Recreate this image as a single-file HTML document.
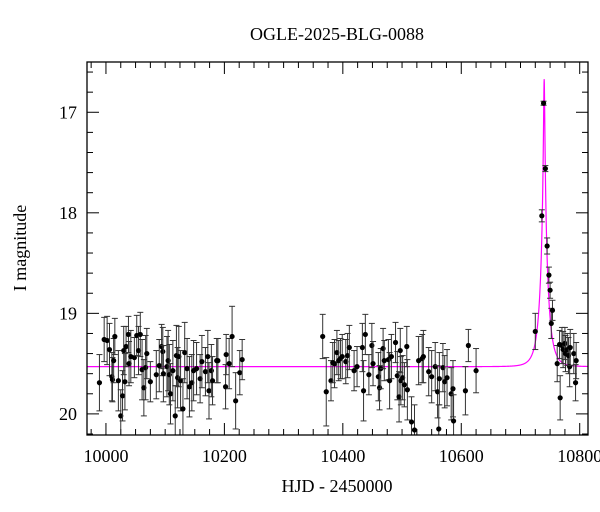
<!DOCTYPE html>
<html><head><meta charset="utf-8"><style>
html,body{margin:0;padding:0;background:#fff;}
svg{display:block;font-family:"Liberation Serif",serif;}
</style></head><body>
<svg id="chart" width="600" height="512" viewBox="0 0 600 512" xmlns="http://www.w3.org/2000/svg">
<rect width="600" height="512" fill="#fff"/>
<text x="337" y="40" text-anchor="middle" font-size="18">OGLE-2025-BLG-0088</text>
<text x="337" y="492" text-anchor="middle" font-size="18">HJD - 2450000</text>
<text x="26" y="248" text-anchor="middle" font-size="18" transform="rotate(-90 26 248)">I magnitude</text>
<g id="ticks"></g>
<g id="model"></g>
<g id="points"></g>
<rect x="87" y="62" width="501" height="373" fill="none" stroke="#000" stroke-width="1.3"/>
</svg>
<script>
const times=[9989,9997,10002,10006,10010,10011,10013,10015,10021,10025,10028,10030,10032,10034,10038,10039,10042,10048,10052,10055,10058,10061,10064,10067,10069,10075,10085,10090,10094,10096,10097,10103,10105,10107,10109,10113,10117,10119,10121,10123,10126,10130,10133,10137,10141,10145,10148,10153,10159,10162,10168,10172,10174,10178,10180,10187,10189,10202,10203,10208,10213,10219,10226,10230,
10366,10372,10380,10383,10386,10390,10393,10396,10399,10405,10408,10411,10419,10424,10433,10435,10438,10444,10449,10451,10460,10462,10464,10468,10470,10477,10479,10482,10489,10492,10495,10497,10498,10501,10504,10508,10509,10516,10521,10528,10534,10536,10545,10550,10556,10560,10562,10563,10569,10572,10576,10583,10586,10587,10607,10612,10625,
10725,10736,10739,10742,10745,10748,10750,10752,10754,10762,10766,10767,10770,10772,10775,10776,10779,10781,10783,10784,10790,10793,10794];
const mags=[19.69,19.26,19.27,19.36,19.63,19.66,19.47,19.23,19.67,20.02,19.82,19.37,19.68,19.33,19.21,19.50,19.43,19.44,19.22,19.37,19.21,19.56,19.74,19.54,19.40,19.68,19.61,19.52,19.33,19.38,19.60,19.53,19.47,19.61,19.80,19.57,20.02,19.42,19.64,19.43,19.67,19.95,19.39,19.55,19.73,19.69,19.57,19.55,19.65,19.48,19.58,19.43,19.77,19.57,19.67,19.47,19.47,19.73,19.41,19.50,19.23,19.87,19.59,19.46,
19.23,19.78,19.67,19.49,19.50,19.39,19.47,19.45,19.43,19.48,19.42,19.34,19.57,19.53,19.34,19.77,19.21,19.61,19.32,19.50,19.63,19.74,19.55,19.35,19.47,19.46,19.67,19.43,19.29,19.62,19.83,19.37,19.67,19.64,19.71,19.33,19.76,20.08,20.16,19.47,19.45,19.43,19.58,19.63,19.53,19.78,20.15,19.65,19.54,19.68,19.64,19.80,19.75,20.07,19.77,19.32,19.57,
19.18,18.03,16.91,17.56,18.33,18.62,18.77,19.10,18.97,19.50,19.31,19.84,19.32,19.36,19.30,19.40,19.36,19.42,19.53,19.34,19.40,19.69,19.47];
const errs=[0.28,0.22,0.24,0.26,0.24,0.22,0.22,0.18,0.3,0.26,0.25,0.24,0.28,0.2,0.18,0.22,0.26,0.2,0.2,0.24,0.22,0.3,0.28,0.32,0.25,0.2,0.24,0.26,0.22,0.24,0.28,0.3,0.3,0.3,0.3,0.3,0.3,0.3,0.3,0.3,0.3,0.3,0.3,0.3,0.3,0.28,0.3,0.26,0.24,0.26,0.24,0.26,0.28,0.26,0.24,0.22,0.22,0.22,0.2,0.25,0.3,0.28,0.22,0.2,
0.22,0.34,0.2,0.2,0.24,0.22,0.2,0.2,0.22,0.22,0.22,0.22,0.2,0.2,0.24,0.3,0.2,0.2,0.22,0.22,0.24,0.22,0.2,0.2,0.2,0.2,0.28,0.22,0.2,0.24,0.25,0.22,0.24,0.22,0.22,0.2,0.3,0.25,0.25,0.24,0.24,0.26,0.24,0.26,0.24,0.26,0.24,0.26,0.24,0.26,0.28,0.26,0.28,0.26,0.24,0.16,0.22,
0.18,0.06,0.02,0.03,0.08,0.08,0.08,0.15,0.1,0.18,0.14,0.22,0.18,0.18,0.16,0.18,0.16,0.18,0.2,0.18,0.2,0.18,0.18];
const xTicks=[10000,10200,10400,10600,10800];
const yTicks=[17,18,19,20];
const t0=10740,u0=0.072,tE=13,baseMag=19.53;

const NS="http://www.w3.org/2000/svg";
const X0=87,X1=588,Y0=62,Y1=435;
const xMin=9968,xMax=10814,yMin=16.50,yMax=20.21;
function sx(t){return X0+(t-xMin)/(xMax-xMin)*(X1-X0);}
function sy(m){return Y0+(m-yMin)/(yMax-yMin)*(Y1-Y0);}
function mk(tag,attrs,parent){const e=document.createElementNS(NS,tag);for(const k in attrs)e.setAttribute(k,attrs[k]);parent.appendChild(e);return e;}

const tg=document.getElementById('ticks');
for(let v=9975;v<=xMax;v+=25){
  const x=sx(v);const major=(v%200===0);const L=major?12:6;
  const a=mk('line',{x1:x,y1:Y1,x2:x,y2:Y1-L,stroke:'#000','stroke-width':1},tg);
  
  
  const b=mk('line',{x1:x,y1:Y0,x2:x,y2:Y0+L,stroke:'#000','stroke-width':1},tg);
  
  
}
xTicks.forEach(v=>{
  const t=mk('text',{x:sx(v),y:462,'text-anchor':'middle','font-size':18},tg);
  t.textContent=v;
  
  
});
for(let i=0;i<=18;i++){
  const v=16.6+i*0.2;if(v>yMax)break;
  const y=sy(v);const major=Math.abs(v-Math.round(v))<0.01;const L=major?12:6;
  const a=mk('line',{x1:X0,y1:y,x2:X0+L,y2:y,stroke:'#000','stroke-width':1},tg);
  
  
  const b=mk('line',{x1:X1,y1:y,x2:X1-L,y2:y,stroke:'#000','stroke-width':1},tg);
  
  
}
yTicks.forEach(v=>{
  const t=mk('text',{x:77,y:sy(v)+6,'text-anchor':'end','font-size':18},tg);
  t.textContent=v;
  
  
});

let d='';
for(let t=xMin;t<=xMax;t+=0.25){
  const tau=(t-t0)/tE;const u=Math.sqrt(u0*u0+tau*tau);
  const A=(u*u+2)/(u*Math.sqrt(u*u+4));
  const m=baseMag-2.5*Math.log10(A);
  d+=(d?'L':'M')+sx(t).toFixed(2)+','+sy(Math.max(m,yMin)).toFixed(2);
}
const mp=mk('path',{d:d,fill:'none',stroke:'#ff00ff','stroke-width':1.2},document.getElementById('model'));



const pg=document.getElementById('points');
for(let i=0;i<times.length;i++){
  const x=sx(times[i]),y=sy(mags[i]);
  const ya=Math.max(Y0,sy(mags[i]-errs[i])),yb=Math.min(Y1,sy(mags[i]+errs[i]));
  const g=mk('g',{},pg);
  
  
  mk('line',{x1:x,y1:ya,x2:x,y2:yb,stroke:'#333','stroke-width':1},g);
  mk('line',{x1:x-3,y1:ya,x2:x+3,y2:ya,stroke:'#333','stroke-width':1},g);
  mk('line',{x1:x-3,y1:yb,x2:x+3,y2:yb,stroke:'#333','stroke-width':1},g);
  mk('circle',{cx:x,cy:y,r:2.6,fill:'#000'},g);
}
</script>
</body></html>
